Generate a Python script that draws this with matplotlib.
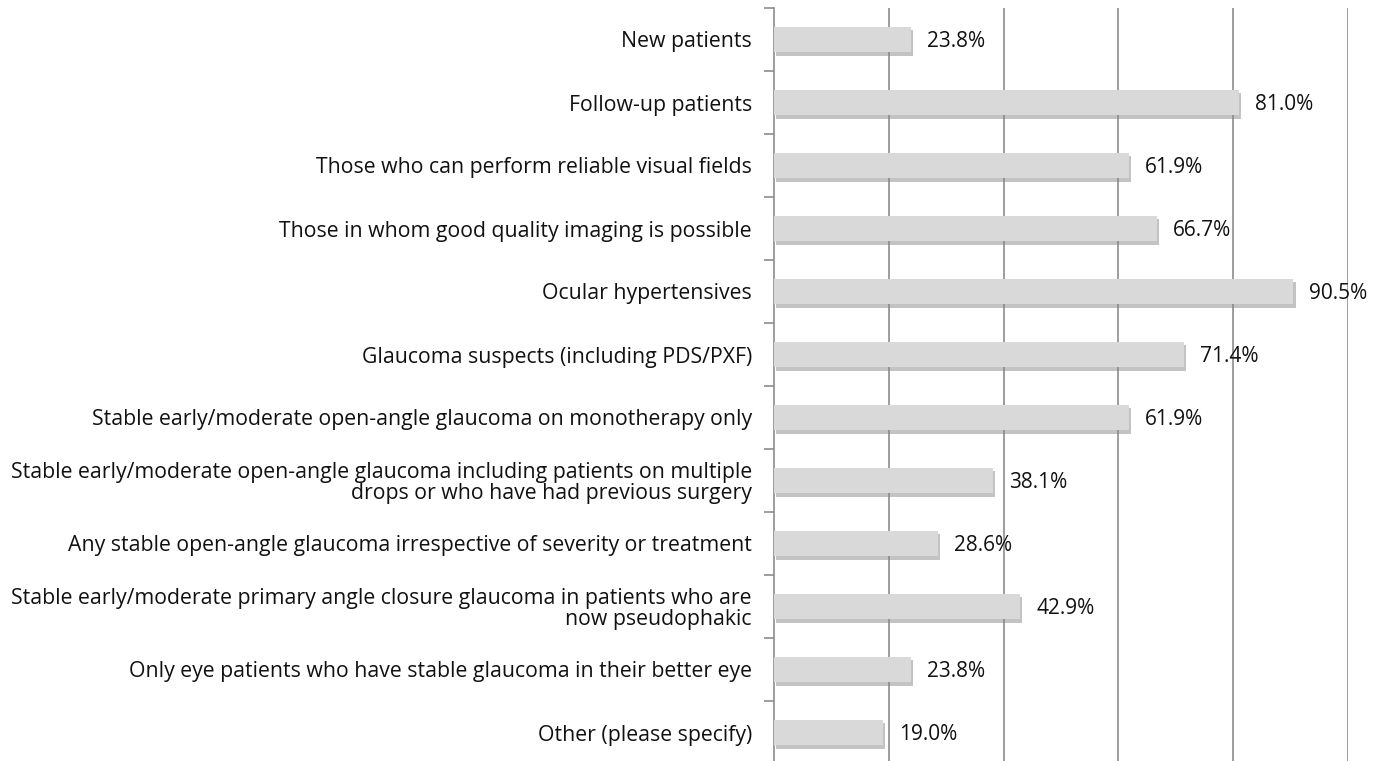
import matplotlib.pyplot as plt
import matplotlib.patheffects as pe

categories = [
    "New patients",
    "Follow-up patients",
    "Those who can perform reliable visual fields",
    "Those in whom good quality imaging is possible",
    "Ocular hypertensives",
    "Glaucoma suspects (including PDS/PXF)",
    "Stable early/moderate open-angle glaucoma on monotherapy only",
    "Stable early/moderate open-angle glaucoma including patients on multiple\ndrops or who have had previous surgery",
    "Any stable open-angle glaucoma irrespective of severity or treatment",
    "Stable early/moderate primary angle closure glaucoma in patients who are\nnow pseudophakic",
    "Only eye patients who have stable glaucoma in their better eye",
    "Other (please specify)",
]
percent = [23.8, 81.0, 61.9, 66.7, 90.5, 71.4, 61.9, 38.1, 28.6, 42.9, 23.8, 19.0]

plt.rcParams['font.family'] = ['Open Sans', 'DejaVu Sans']

fig = plt.figure(figsize=(13.81, 7.61), dpi=100)
ax = fig.add_axes([774 / 1381, -3 / 761, (1348 - 774) / 1381, 756 / 761])

ypos = list(range(len(categories)))
bars = ax.barh(ypos, percent, height=0.4, color='#d9d9d9', zorder=3)
for b in bars:
    b.set_path_effects([pe.SimplePatchShadow(offset=(1.5, -2.5), shadow_rgbFace='#888888', alpha=0.5),
                        pe.Normal()])

for y, v in zip(ypos, percent):
    ax.annotate(f"{v:.1f}%", (v, y), xytext=(11.5, -1.5), textcoords='offset points',
                va='center', ha='left', fontsize=15, color='#111111', zorder=4,
                annotation_clip=False)

ax.set_xlim(0, 100)
ax.set_ylim(len(categories) - 0.5, -0.5)
ax.set_xticks([20, 40, 60, 80, 100])
ax.tick_params(axis='x', length=0, labelbottom=False)
ax.grid(axis='x', color='#8c8c8c', linewidth=1.2, zorder=0)

ax.set_yticks(ypos)
ax.set_yticklabels(categories, fontsize=15.3, color='#111111')
ax.tick_params(axis='y', which='major', length=0, pad=16)
ax.set_yticks([i - 0.5 for i in range(len(categories) + 1)], minor=True)
ax.tick_params(axis='y', which='minor', length=7, width=1.2, color='#8c8c8c', direction='out')
for lab in ax.get_yticklabels():
    lab.set_multialignment('right')
    lab.set_linespacing(1.0)

for s in ['top', 'right', 'bottom']:
    ax.spines[s].set_visible(False)
ax.spines['left'].set_color('#8c8c8c')
ax.spines['left'].set_linewidth(1.2)

fig.savefig('out.png', dpi=100)
